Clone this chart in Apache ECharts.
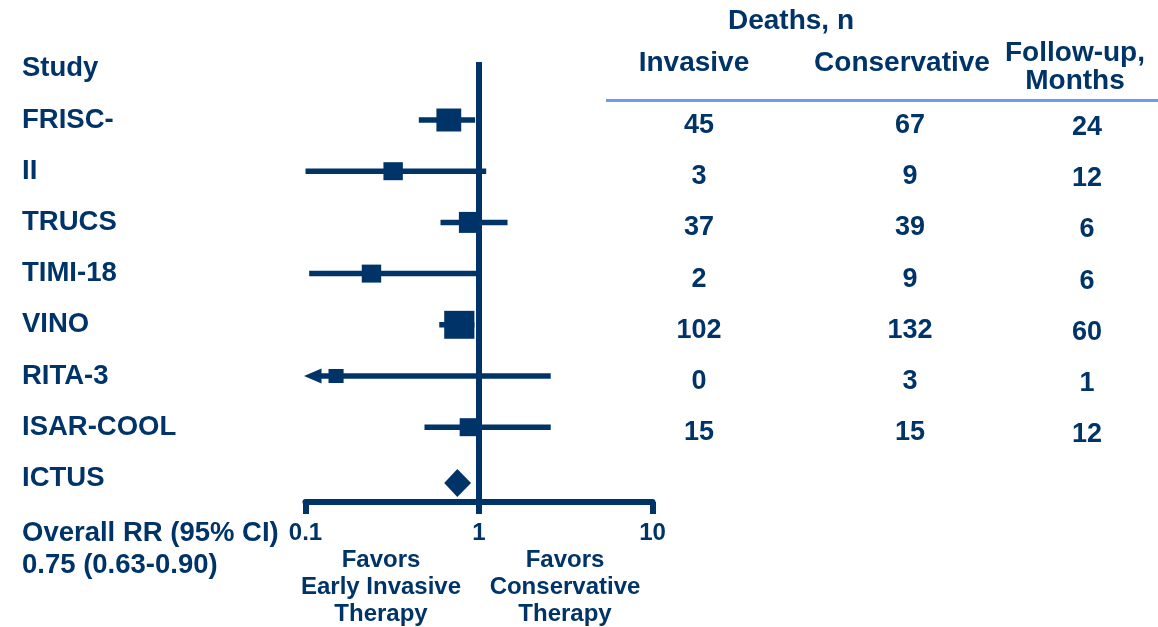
<!DOCTYPE html>
<html>
<head>
<meta charset="utf-8">
<script src="https://cdn.jsdelivr.net/npm/echarts@6/dist/echarts.min.js"></script>
<style>
  html, body { margin: 0; padding: 0; background: #ffffff; }
  #chart { width: 1158px; height: 627px; }
</style>
</head>
<body>
<div id="chart"></div>
<script>
// Row labels on the left (first entry is the column header)
const studyLabels = ['Study', 'FRISC-', 'II', 'TRUCS', 'TIMI-18', 'VINO', 'RITA-3', 'ISAR-COOL', 'ICTUS'];
// Relative risk of death and 95% CI for each plotted row
const riskRatio = [0.67, 0.32, 0.89, 0.24, 0.77, 0.15, 0.88];
const ciLower   = [0.45, 0.10, 0.60, 0.105, 0.59, 0.01, 0.485];
const ciUpper   = [0.95, 1.10, 1.46, 1.00, 0.94, 2.59, 2.59];
// Relative study weights (%), shown as the box area
const studyWeight = [18.1, 11.1, 15.1, 11.1, 26.8, 6.7, 11.1];
// Pooled estimate: RR, lower, upper
const overallRR = [0.75, 0.63, 0.90];
// Table columns
const tableColumns = ['Invasive', 'Conservative', 'Follow-up,\nMonths'];
const deathsInvasive     = [45, 3, 37, 2, 102, 0, 15];
const deathsConservative = [67, 9, 39, 9, 132, 3, 15];
const followUpMonths     = [24, 12, 6, 6, 60, 1, 12];
// Log axis range / ticks
const axisTicks = [0.1, 1, 10];

const NAVY = '#003468';
const FONT = "'Liberation Sans', Arial, Helvetica, sans-serif";
const Y_MIN = -1.133, Y_MAX = 7.461;

const chart = echarts.init(document.getElementById('chart'), null, { renderer: 'canvas' });

function renderCI(params, api) {
  const row = api.value(1);
  const lo = api.value(2), hi = api.value(3);
  const xMin = axisTicks[0];
  const clipped = lo < xMin;
  const start = api.coord([Math.max(lo, xMin), row]);
  const end = api.coord([hi, row]);
  const arrowLen = 16, arrowHalf = 7.5;
  const children = [{
    type: 'line',
    shape: { x1: clipped ? start[0] + arrowLen - 1 : start[0], y1: start[1], x2: end[0], y2: end[1] },
    style: { stroke: NAVY, lineWidth: 5.5 }
  }];
  if (clipped) {
    children.push({
      type: 'polygon',
      shape: { points: [[start[0] - 1.5, start[1]], [start[0] + arrowLen, start[1] - arrowHalf], [start[0] + arrowLen, start[1] + arrowHalf]] },
      style: { fill: NAVY }
    });
  }
  return { type: 'group', children };
}

function renderDiamond(params, api) {
  const row = api.value(1);
  const c = api.coord([api.value(0), row]);
  const l = api.coord([api.value(2), row]);
  const r = api.coord([api.value(3), row]);
  const cy = c[1] + 4.6, h = 14;
  return {
    type: 'polygon',
    shape: { points: [[l[0], cy], [c[0], cy - h], [r[0], cy], [c[0], cy + h]] },
    style: { fill: NAVY }
  };
}

const colOffsets = [[1, 5.5], [28, 5.5], [21, 7.5]];
const tableSeries = [deathsInvasive, deathsConservative, followUpMonths].map((vals, c) => ({
  type: 'scatter',
  xAxisIndex: 1, yAxisIndex: 1,
  symbolSize: 1,
  itemStyle: { color: 'rgba(0,0,0,0)', opacity: 1 },
  silent: true,
  data: vals.map((v, i) => [c, i, v]),
  label: {
    show: true, position: 'inside', offset: colOffsets[c],
    formatter: p => String(p.value[2]),
    color: NAVY, opacity: 1, fontSize: 27, fontWeight: 'bold', fontFamily: FONT
  }
}));

const headerText = (text, x, y, size, extra) => ({
  type: 'text', x: x, y: y, silent: true,
  style: Object.assign({
    text: text, fill: NAVY, font: 'bold ' + size + 'px ' + FONT,
    textAlign: 'center', textVerticalAlign: 'middle'
  }, extra || {})
});

const fmt = v => v.toFixed(2);

const option = {
  animation: false,
  backgroundColor: '#ffffff',
  grid: [
    { left: 305.5, right: 505.5, top: 62, bottom: 125 },
    { left: 606, right: 0, top: 62, bottom: 125 }
  ],
  xAxis: [
    {
      type: 'log', logBase: 10, min: axisTicks[0], max: axisTicks[axisTicks.length - 1], gridIndex: 0,
      axisLine: { show: true, onZero: false, lineStyle: { color: NAVY, width: 6 } },
      axisTick: { show: true, inside: false, length: 12, lineStyle: { color: NAVY, width: 6 } },
      minorTick: { show: false },
      splitLine: { show: false },
      axisLabel: {
        show: true, margin: 19, color: NAVY, fontSize: 24, fontWeight: 'bold', fontFamily: FONT,
        showMinLabel: true, showMaxLabel: true,
        formatter: v => String(v)
      }
    },
    { type: 'category', gridIndex: 1, data: tableColumns, show: false }
  ],
  yAxis: [
    {
      type: 'value', gridIndex: 0, inverse: true, min: Y_MIN, max: Y_MAX,
      axisLine: { show: false }, axisTick: { show: false }, splitLine: { show: false },
      axisLabel: {
        show: true,
        customValues: studyLabels.map((s, i) => i - 1),
        formatter: v => studyLabels[Math.round(v) + 1] || '',
        align: 'left', margin: 283.5, padding: [0, 0, 5, 0],
        color: NAVY, fontSize: 27.5, fontWeight: 'bold', fontFamily: FONT
      }
    },
    { type: 'value', gridIndex: 1, inverse: true, min: Y_MIN, max: Y_MAX, show: false }
  ],
  series: [
    {
      type: 'custom', name: 'ci', xAxisIndex: 0, yAxisIndex: 0, silent: true,
      renderItem: renderCI,
      encode: { x: [0, 2, 3], y: 1 },
      data: riskRatio.map((rr, i) => [rr, i, ciLower[i], ciUpper[i]]),
      z: 2
    },
    {
      type: 'scatter', name: 'rr', xAxisIndex: 0, yAxisIndex: 0, silent: true,
      symbol: 'rect',
      symbolSize: (val, p) => { const s = 5.4 * Math.sqrt(studyWeight[p.dataIndex]); return [s * 1.08, s]; },
      itemStyle: { color: NAVY, opacity: 1 },
      data: riskRatio.map((rr, i) => [rr, i]),
      z: 3,
      markLine: {
        silent: true, symbol: ['none', 'none'],
        lineStyle: { color: NAVY, width: 6, type: 'solid' },
        label: { show: false },
        data: [{ xAxis: 1 }]
      }
    },
    {
      type: 'custom', name: 'overall', xAxisIndex: 0, yAxisIndex: 0, silent: true,
      renderItem: renderDiamond,
      encode: { x: [0, 2, 3], y: 1 },
      data: [[overallRR[0], riskRatio.length, overallRR[1], overallRR[2]]],
      z: 3
    }
  ].concat(tableSeries),
  graphic: [
    headerText('Deaths, n', 791, 21, 28),
    headerText(tableColumns[0], 694, 63, 28),
    headerText(tableColumns[1], 902, 63, 28),
    headerText(tableColumns[2], 1075, 67, 28, { lineHeight: 28 }),
    {
      type: 'line', silent: true,
      shape: { x1: 606, y1: 100.5, x2: 1158, y2: 100.5 },
      style: { stroke: '#6c9cf2', lineWidth: 3 }
    },
    headerText('Overall RR (95% CI)', 22, 533, 27.5, { textAlign: 'left' }),
    headerText(fmt(overallRR[0]) + ' (' + fmt(overallRR[1]) + '-' + fmt(overallRR[2]) + ')', 22, 565, 27.5, { textAlign: 'left' }),
    headerText('Favors\nEarly Invasive\nTherapy', 381, 587, 24, { lineHeight: 27 }),
    headerText('Favors\nConservative\nTherapy', 565, 587, 24, { lineHeight: 27 })
  ]
};

chart.setOption(option);
</script>
</body>
</html>
